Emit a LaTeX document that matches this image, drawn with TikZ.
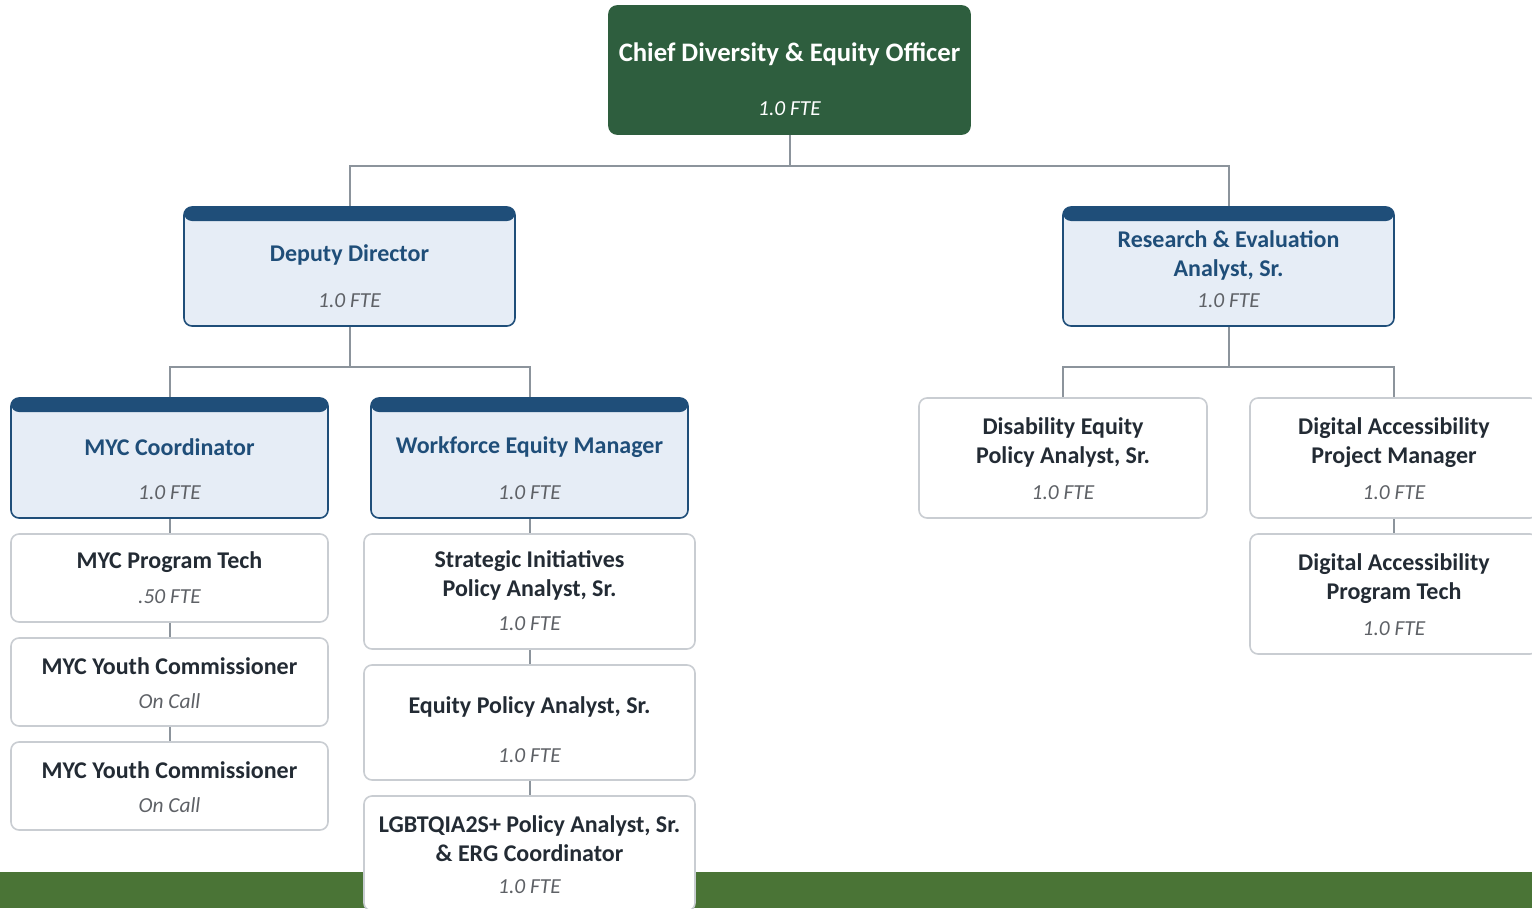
\documentclass[tikz,border=0pt]{standalone}
\usepackage{fontspec}
\setmainfont{Carlito}
\usepackage{xcolor}
\usepackage{tikz}
\usetikzlibrary{positioning}

\definecolor{chiefgreen}{HTML}{2E5E3E}
\definecolor{bargreen}{HTML}{4A7436}
\definecolor{hdrblue}{HTML}{1F4E79}
\definecolor{paleblue}{HTML}{E6EDF6}
\definecolor{boxgray}{HTML}{C9CDD2}
\definecolor{linkgray}{HTML}{8C949C}
\definecolor{darktext}{HTML}{232B34}
\definecolor{ftegray}{HTML}{5E6166}

\begin{document}
\begin{tikzpicture}[x=1pt, y=-1pt,
  conn/.style={draw=linkgray, line width=2pt},
  basebox/.style={rounded corners=8pt, inner sep=0pt, line width=1.6pt},
  chiefbox/.style={basebox, fill=chiefgreen, draw=chiefgreen, minimum width=361pt, minimum height=128pt},
  leadbox/.style={basebox, fill=paleblue, draw=hdrblue, minimum width=331pt, minimum height=119pt,
    path picture={\fill[hdrblue] (path picture bounding box.north west) rectangle ([yshift=-14pt]path picture bounding box.north east);}},
  staffbox/.style={basebox, fill=white, draw=boxgray},
  ttl/.style={align=center, inner sep=0pt, font=\fontsize{24}{29}\selectfont\bfseries, text=darktext},
  fte/.style={inner sep=0pt, font=\fontsize{21.4}{24}\selectfont\itshape, text=ftegray}]
\clip (0,0) rectangle (1532,908);

% footer band
\fill[bargreen] (0,872) rectangle (1532,908);

% top level
\node[chiefbox] (chief) at (789.5,70) {};
\node[ttl, text=white, font=\fontsize{26.7}{30}\selectfont\bfseries] (chief-t) at (789.5,54) {Chief Diversity \& Equity Officer};
\node[fte, text=white] (chief-f) at (789.5,109) {1.0 FTE};

% second level
\node[leadbox] (deputy) at (349.5,266.5) {};
\node[ttl, text=hdrblue] (deputy-t) at (349.5,255) {Deputy Director};
\node[fte] (deputy-f) at (349.5,301) {1.0 FTE};

\node[leadbox] (research) at (1228.5,266.5) {};
\node[ttl, text=hdrblue] (research-t) at (1228.5,255) {Research \& Evaluation\\Analyst, Sr.};
\node[fte] (research-f) at (1228.5,301) {1.0 FTE};

% under the deputy
\node[leadbox, minimum width=317pt, minimum height=120pt] (myc) at (169.5,458) {};
\node[ttl, text=hdrblue] (myc-t) at (169.5,447) {MYC Coordinator};
\node[fte] (myc-f) at (169.5,493) {1.0 FTE};

\node[leadbox, minimum width=317pt, minimum height=120pt] (wfe) at (529.5,458) {};
\node[ttl, text=hdrblue] (wfe-t) at (529.5,447) {Workforce Equity Manager};
\node[fte] (wfe-f) at (529.5,493) {1.0 FTE};

\node[staffbox, minimum width=317pt, minimum height=88pt] (myctech) at (169.5,578) {};
\node[ttl] (myctech-t) at (169.5,562) {MYC Program Tech};
\node[fte] (myctech-f) at (169.5,597) {.50 FTE};

\node[staffbox, minimum width=317pt, minimum height=88pt] (youth1) at (169.5,682) {};
\node[ttl] (youth1-t) at (169.5,666) {MYC Youth Commissioner};
\node[fte] (youth1-f) at (169.5,701) {On Call};

\node[staffbox, minimum width=317pt, minimum height=88pt] (youth2) at (169.5,786) {};
\node[ttl] (youth2-t) at (169.5,770) {MYC Youth Commissioner};
\node[fte] (youth2-f) at (169.5,805) {On Call};

\node[staffbox, minimum width=331pt, minimum height=115pt] (strat) at (529.5,591.5) {};
\node[ttl] (strat-t) at (529.5,575.5) {Strategic Initiatives\\Policy Analyst, Sr.};
\node[fte] (strat-f) at (529.5,624) {1.0 FTE};

\node[staffbox, minimum width=331pt, minimum height=115pt] (equity) at (529.5,722.5) {};
\node[ttl] (equity-t) at (529.5,707) {Equity Policy Analyst, Sr.};
\node[fte] (equity-f) at (529.5,756) {1.0 FTE};

\node[staffbox, minimum width=331pt, minimum height=115pt] (lgbt) at (529.5,853.5) {};
\node[ttl] (lgbt-t) at (529.5,838.5) {LGBTQIA2S+ Policy Analyst, Sr.\\\& ERG Coordinator};
\node[fte] (lgbt-f) at (529.5,887) {1.0 FTE};

% under research
\node[staffbox, minimum width=288pt, minimum height=120pt] (disab) at (1063,458) {};
\node[ttl] (disab-t) at (1063,442.5) {Disability Equity\\Policy Analyst, Sr.};
\node[fte] (disab-f) at (1063,493) {1.0 FTE};

\node[staffbox, minimum width=288pt, minimum height=120pt] (dapm) at (1394,458) {};
\node[ttl] (dapm-t) at (1394,442.5) {Digital Accessibility\\Project Manager};
\node[fte] (dapm-f) at (1394,493) {1.0 FTE};

\node[staffbox, minimum width=288pt, minimum height=120pt] (dapt) at (1394,594) {};
\node[ttl] (dapt-t) at (1394,578.5) {Digital Accessibility\\Program Tech};
\node[fte] (dapt-f) at (1394,629) {1.0 FTE};

% reporting lines
\coordinate (bus0) at (789.5,166);
\coordinate (bus1) at (349.5,367);
\coordinate (bus2) at (1228.5,367);
\draw[conn] (chief.south) -- (bus0) -| (deputy.north);
\draw[conn] (bus0) -| (research.north);
\draw[conn] (deputy.south) -- (bus1) -| (myc.north);
\draw[conn] (bus1) -| (wfe.north);
\draw[conn] (research.south) -- (bus2) -| (disab.north);
\draw[conn] (bus2) -| (dapm.north);
\draw[conn] (myc.south) -- (myctech.north);
\draw[conn] (myctech.south) -- (youth1.north);
\draw[conn] (youth1.south) -- (youth2.north);
\draw[conn] (wfe.south) -- (strat.north);
\draw[conn] (strat.south) -- (equity.north);
\draw[conn] (equity.south) -- (lgbt.north);
\draw[conn] (dapm.south) -- (dapt.north);
\end{tikzpicture}
\end{document}
